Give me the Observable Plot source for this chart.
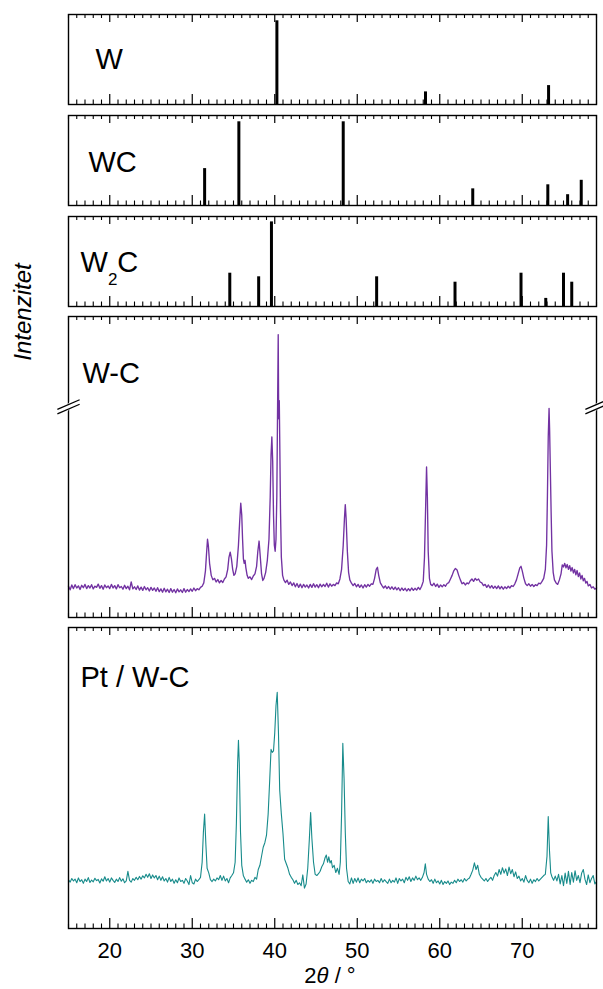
<!DOCTYPE html>
<html><head><meta charset="utf-8">
<script src="https://cdn.jsdelivr.net/npm/d3@7"></script>
<script src="https://cdn.jsdelivr.net/npm/@observablehq/plot@0.6"></script>
<style>
body{margin:0;background:#fff;}
#fig{position:relative;width:603px;height:989px;overflow:hidden;background:#fff;font-family:"Liberation Sans",Arial,sans-serif;}
#fig svg{position:absolute;left:0;background:none;}
</style></head><body><div id="fig"></div>
<script>
// ---------- data ----------
const xDomain = [15, 79];
const majorTicks = [20, 30, 40, 50, 60, 70];
const tickLabels = ["20", "30", "40", "50", "60", "70"];

// reference stick patterns (2θ, relative height %)
const wPos  = [40.26, 58.27, 73.19];
const wInt  = [93, 14, 21];
const wcPos = [31.5, 35.65, 48.3, 64.0, 73.1, 75.5, 77.15];
const wcInt = [41, 93, 93, 18.5, 23, 12, 28];
const w2cPos = [34.55, 38.05, 39.6, 52.35, 61.85, 69.85, 72.85, 75.0, 76.0];
const w2cInt = [37, 33, 94, 33, 27, 37, 9, 37, 27];

// measured pattern W-C (2θ, intensity a.u.)
const wcSpectrum = [[15.0,10.4],[15.2,9.2],[15.4,10.8],[15.6,9.6],[15.8,10.9],[16.0,9.8],[16.2,10.5],[16.4,9.3],[16.6,10.7],[16.8,9.9],[17.0,11.0],[17.2,9.6],[17.4,10.6],[17.6,9.8],[17.8,10.9],[18.0,9.5],[18.2,10.4],[18.4,10.0],[18.6,11.1],[18.8,9.7],[19.0,10.6],[19.2,9.4],[19.4,10.8],[19.6,9.9],[19.8,10.5],[20.0,9.6],[20.2,11.0],[20.4,9.8],[20.6,10.6],[20.8,9.5],[21.0,10.9],[21.2,9.9],[21.4,10.3],[21.6,9.4],[21.8,10.7],[22.0,9.6],[22.2,10.4],[22.4,9.2],[22.6,11.8],[22.8,9.5],[23.0,10.2],[23.2,9.3],[23.4,10.5],[23.6,9.1],[23.8,10.1],[24.0,9.0],[24.2,10.3],[24.4,9.2],[24.6,9.9],[24.8,8.8],[25.0,10.0],[25.2,9.0],[25.4,9.8],[25.6,8.7],[25.8,9.9],[26.0,8.6],[26.2,9.5],[26.4,8.4],[26.6,9.7],[26.8,8.5],[27.0,9.4],[27.2,8.3],[27.4,9.6],[27.6,8.4],[27.8,9.3],[28.0,8.2],[28.2,9.5],[28.4,8.5],[28.6,9.2],[28.8,8.3],[29.0,9.6],[29.2,8.4],[29.4,9.3],[29.6,8.6],[29.8,9.5],[30.0,8.7],[30.2,9.8],[30.4,8.9],[30.6,9.6],[30.8,9.2],[31.0,10.0],[31.2,10.4],[31.4,11.5],[31.6,15.5],[31.75,22.0],[31.85,26.0],[31.95,24.0],[32.1,18.0],[32.3,14.0],[32.5,12.5],[32.7,13.0],[32.9,11.8],[33.1,12.6],[33.3,11.5],[33.5,12.3],[33.7,11.6],[33.9,12.8],[34.1,13.5],[34.3,16.0],[34.45,20.0],[34.6,21.7],[34.75,19.5],[34.9,16.0],[35.05,14.0],[35.2,14.5],[35.4,17.0],[35.6,24.0],[35.75,32.0],[35.88,38.0],[36.0,34.0],[36.1,26.0],[36.2,19.5],[36.3,18.0],[36.4,19.0],[36.5,16.5],[36.65,14.0],[36.8,13.0],[37.0,13.5],[37.2,12.6],[37.4,13.8],[37.6,14.5],[37.8,17.0],[37.95,22.0],[38.1,25.4],[38.25,20.0],[38.4,14.5],[38.55,12.3],[38.7,13.0],[38.9,15.0],[39.1,19.0],[39.3,26.0],[39.45,40.0],[39.55,54.0],[39.65,60.0],[39.75,52.0],[39.85,34.0],[39.95,24.0],[40.05,22.0],[40.15,26.0],[40.25,40.0],[40.35,72.0],[40.42,94.0],[40.48,66.0],[40.55,72.0],[40.62,55.0],[40.7,35.0],[40.8,20.0],[40.95,14.0],[41.1,12.5],[41.3,11.6],[41.5,12.4],[41.7,11.0],[41.9,11.8],[42.1,10.6],[42.3,11.5],[42.5,10.2],[42.7,11.3],[42.9,10.0],[43.1,11.1],[43.3,9.9],[43.5,11.0],[43.7,10.1],[43.9,10.8],[44.1,9.8],[44.3,11.0],[44.5,10.0],[44.7,11.2],[44.9,10.1],[45.1,10.9],[45.3,9.9],[45.5,11.1],[45.7,10.2],[45.9,11.0],[46.1,10.3],[46.3,11.4],[46.5,10.1],[46.7,11.2],[46.9,10.4],[47.1,11.0],[47.3,10.6],[47.5,11.5],[47.7,11.2],[47.9,12.8],[48.1,16.0],[48.3,24.0],[48.45,33.0],[48.55,37.5],[48.65,33.0],[48.8,22.0],[48.95,15.0],[49.1,12.5],[49.3,11.4],[49.5,10.6],[49.7,11.3],[49.9,10.2],[50.1,11.0],[50.3,10.0],[50.5,10.8],[50.7,9.8],[50.9,10.9],[51.1,10.1],[51.3,11.0],[51.5,10.4],[51.7,11.2],[51.9,11.0],[52.1,13.0],[52.3,16.0],[52.45,16.7],[52.6,14.0],[52.8,11.5],[53.0,10.6],[53.2,9.8],[53.4,10.5],[53.6,9.6],[53.8,10.3],[54.0,9.4],[54.2,10.2],[54.4,9.3],[54.6,10.1],[54.8,9.2],[55.0,9.9],[55.2,8.9],[55.4,9.8],[55.6,9.0],[55.8,9.7],[56.0,8.8],[56.2,9.6],[56.4,8.9],[56.6,9.8],[56.8,9.0],[57.0,9.7],[57.2,9.1],[57.4,10.0],[57.6,9.3],[57.8,10.4],[58.0,12.0],[58.15,20.0],[58.3,38.0],[58.4,50.0],[58.5,40.0],[58.6,22.0],[58.75,13.0],[58.9,11.0],[59.1,10.6],[59.3,11.4],[59.5,10.3],[59.7,11.1],[59.9,10.0],[60.1,10.8],[60.3,10.2],[60.5,10.9],[60.7,10.4],[60.9,11.3],[61.1,11.6],[61.3,12.8],[61.5,14.0],[61.7,15.5],[61.9,16.3],[62.1,15.8],[62.3,14.0],[62.5,12.5],[62.7,11.2],[62.9,11.6],[63.1,10.8],[63.3,11.5],[63.5,11.2],[63.7,12.2],[63.9,12.8],[64.1,12.0],[64.3,13.0],[64.5,12.4],[64.7,12.8],[64.9,11.8],[65.1,11.5],[65.3,10.6],[65.5,11.0],[65.7,10.0],[65.9,10.8],[66.1,9.8],[66.3,10.6],[66.5,9.7],[66.7,10.4],[66.9,9.6],[67.1,10.5],[67.3,9.5],[67.5,10.3],[67.7,9.4],[67.9,10.2],[68.1,9.6],[68.3,10.4],[68.5,9.8],[68.7,10.6],[68.9,10.3],[69.1,11.2],[69.3,12.5],[69.5,14.5],[69.7,16.5],[69.85,17.0],[70.0,15.5],[70.2,13.0],[70.4,11.2],[70.6,10.6],[70.8,11.2],[71.0,10.4],[71.2,11.0],[71.4,10.3],[71.6,10.9],[71.8,10.6],[72.0,11.4],[72.2,11.2],[72.4,12.0],[72.6,13.0],[72.8,16.0],[72.95,24.0],[73.05,40.0],[73.15,60.0],[73.25,69.5],[73.32,62.0],[73.4,50.0],[73.5,35.0],[73.6,22.0],[73.75,15.0],[73.9,12.5],[74.1,11.5],[74.3,11.0],[74.5,12.5],[74.7,14.5],[74.85,17.5],[75.0,16.8],[75.15,18.0],[75.3,16.5],[75.45,17.6],[75.6,16.0],[75.75,17.2],[75.9,15.4],[76.05,16.6],[76.2,14.8],[76.35,16.0],[76.5,14.2],[76.65,15.6],[76.8,13.6],[76.95,14.8],[77.1,12.8],[77.25,14.0],[77.4,12.2],[77.55,13.0],[77.7,11.4],[77.85,12.0],[78.0,10.5],[78.2,11.0],[78.4,9.8],[78.6,10.2],[78.8,9.4],[79.0,9.8]];

// measured pattern Pt / W-C (2θ, intensity a.u.)
const ptSpectrum = [[15.0,16.2],[15.2,15.4],[15.4,16.6],[15.6,15.8],[15.8,16.4],[16.0,15.2],[16.2,16.8],[16.4,15.6],[16.6,16.2],[16.8,15.0],[17.0,16.4],[17.2,15.6],[17.4,16.9],[17.6,15.3],[17.8,16.1],[18.0,15.5],[18.2,16.7],[18.4,15.9],[18.6,16.3],[18.8,15.1],[19.0,16.5],[19.2,15.7],[19.4,17.2],[19.6,15.8],[19.8,16.6],[20.0,15.4],[20.2,16.8],[20.4,16.0],[20.6,15.3],[20.8,16.4],[21.0,15.6],[21.2,16.9],[21.4,15.7],[21.6,16.5],[21.8,15.2],[22.0,15.8],[22.2,19.0],[22.4,16.0],[22.6,15.4],[22.8,16.6],[23.0,16.0],[23.2,17.0],[23.4,16.2],[23.6,17.3],[23.8,16.4],[24.0,17.5],[24.2,16.8],[24.4,18.0],[24.6,17.0],[24.8,18.2],[25.0,16.6],[25.2,17.8],[25.4,16.8],[25.6,17.6],[25.8,16.2],[26.0,17.4],[26.2,16.0],[26.4,17.2],[26.6,15.8],[26.8,16.6],[27.0,15.4],[27.2,17.0],[27.4,15.6],[27.6,16.4],[27.8,15.0],[28.0,16.2],[28.2,15.2],[28.4,16.8],[28.6,15.6],[28.8,16.0],[29.0,15.0],[29.2,16.6],[29.4,15.8],[29.6,14.6],[29.8,17.6],[30.0,15.2],[30.2,14.8],[30.4,16.4],[30.6,15.6],[30.8,16.2],[31.0,17.0],[31.2,22.0],[31.35,32.0],[31.5,38.0],[31.65,28.0],[31.8,20.0],[32.0,18.5],[32.2,16.2],[32.4,15.6],[32.6,16.4],[32.8,15.8],[33.0,16.8],[33.2,16.2],[33.4,17.6],[33.6,16.0],[33.8,17.4],[34.0,15.8],[34.2,16.6],[34.4,15.2],[34.6,16.8],[34.8,17.6],[35.0,18.5],[35.2,22.0],[35.35,35.0],[35.5,55.0],[35.6,62.5],[35.7,55.0],[35.85,32.0],[36.0,21.0],[36.2,17.5],[36.4,16.4],[36.6,15.4],[36.8,16.2],[37.0,15.0],[37.2,16.0],[37.4,15.6],[37.6,17.0],[37.8,16.4],[38.0,19.6],[38.2,21.0],[38.4,24.0],[38.6,27.0],[38.8,28.5],[39.0,31.0],[39.2,38.0],[39.4,50.0],[39.55,59.5],[39.7,58.5],[39.85,59.0],[40.0,65.0],[40.15,74.0],[40.3,78.5],[40.45,65.0],[40.6,46.0],[40.8,38.0],[41.0,31.5],[41.2,23.0],[41.4,21.5],[41.6,20.0],[41.8,18.0],[42.0,17.0],[42.2,16.2],[42.4,15.0],[42.6,16.0],[42.8,14.6],[43.0,15.2],[43.2,14.2],[43.4,17.8],[43.6,13.4],[43.8,14.8],[44.0,20.0],[44.2,30.0],[44.35,38.5],[44.5,30.0],[44.7,22.0],[44.9,18.0],[45.1,17.6],[45.3,18.2],[45.5,19.0],[45.7,20.5],[45.9,21.5],[46.1,23.5],[46.25,24.4],[46.4,22.0],[46.55,23.8],[46.7,21.8],[46.85,22.6],[47.0,20.2],[47.2,21.0],[47.4,18.6],[47.6,20.0],[47.8,18.0],[47.95,22.0],[48.1,38.0],[48.25,61.5],[48.4,50.0],[48.55,32.0],[48.7,20.0],[48.9,15.6],[49.1,14.8],[49.3,16.8],[49.5,15.0],[49.7,16.6],[49.9,15.4],[50.1,16.8],[50.3,15.2],[50.5,16.4],[50.7,15.8],[50.9,16.6],[51.1,15.2],[51.3,16.0],[51.5,15.4],[51.7,16.2],[51.9,15.0],[52.1,16.4],[52.3,15.6],[52.5,16.0],[52.7,15.2],[52.9,16.6],[53.1,15.4],[53.3,16.2],[53.5,15.6],[53.7,15.0],[53.9,16.4],[54.1,15.2],[54.3,16.0],[54.5,15.4],[54.7,16.8],[54.9,15.0],[55.1,16.6],[55.3,15.8],[55.5,16.4],[55.7,15.2],[55.9,17.0],[56.1,16.0],[56.3,17.2],[56.5,15.6],[56.7,16.8],[56.9,16.0],[57.1,17.4],[57.3,16.2],[57.5,16.8],[57.7,16.0],[57.9,17.0],[58.1,18.6],[58.25,21.5],[58.4,18.0],[58.6,16.4],[58.8,15.6],[59.0,16.2],[59.2,15.0],[59.4,16.4],[59.6,15.2],[59.8,15.8],[60.0,14.8],[60.2,16.0],[60.4,14.6],[60.6,15.6],[60.8,15.0],[61.0,15.8],[61.2,14.6],[61.4,15.4],[61.6,15.0],[61.8,16.0],[62.0,15.2],[62.2,16.4],[62.4,15.6],[62.6,16.2],[62.8,15.4],[63.0,16.6],[63.2,15.8],[63.4,16.4],[63.6,16.8],[63.8,18.0],[64.0,19.4],[64.2,21.8],[64.4,19.6],[64.6,21.0],[64.8,18.0],[65.0,17.0],[65.2,16.4],[65.4,15.8],[65.6,16.6],[65.8,15.6],[66.0,16.4],[66.2,17.0],[66.4,16.0],[66.6,17.6],[66.8,18.6],[67.0,17.4],[67.2,19.6],[67.4,18.0],[67.6,20.2],[67.8,18.4],[68.0,19.8],[68.2,17.6],[68.4,20.4],[68.6,18.2],[68.8,19.6],[69.0,17.2],[69.2,18.8],[69.4,16.6],[69.6,17.4],[69.8,15.8],[70.0,16.6],[70.2,15.4],[70.4,17.6],[70.6,16.0],[70.8,15.2],[71.0,16.4],[71.2,15.0],[71.4,16.2],[71.6,15.6],[71.8,16.6],[72.0,15.8],[72.2,16.4],[72.4,17.0],[72.6,17.6],[72.8,18.0],[73.0,24.0],[73.15,37.2],[73.3,26.0],[73.45,18.5],[73.6,17.2],[73.8,16.0],[74.0,17.4],[74.2,15.8],[74.4,18.0],[74.6,14.8],[74.8,17.6],[75.0,14.2],[75.2,18.4],[75.4,15.0],[75.6,19.0],[75.8,14.6],[76.0,18.6],[76.2,15.4],[76.4,19.2],[76.6,16.0],[76.8,17.6],[77.0,15.2],[77.2,18.4],[77.4,19.6],[77.6,16.4],[77.8,14.6],[78.0,17.8],[78.2,15.2],[78.4,16.6],[78.6,17.6],[78.8,14.8],[79.0,15.6]];

const breakAt = 70; // axis break level in W-C panel

// ---------- layout / style ----------
const W = 603, ML = 68, MR = 7;
const purple = "#7232a2", teal = "#178b8b";
const font = "Liberation Sans, Arial, sans-serif";
const minorTicks = d3.range(15, 80).filter(v => !majorTicks.includes(v));
const fig = document.getElementById("fig");

function sticks(pos, ints) { return pos.map((x, i) => ({x, h: ints[i]})); }
function pts(arr) { return arr.map(([x, y]) => ({x, y})); }

function tickMarks(h) {
  return [
    Plot.ruleX(minorTicks, {stroke: "black", strokeWidth: 1.1, insetTop: h - 4.5}),
    Plot.ruleX(minorTicks, {stroke: "black", strokeWidth: 1.1, insetBottom: h - 4}),
    Plot.ruleX(majorTicks, {stroke: "black", strokeWidth: 1.2, insetTop: h - 10}),
    Plot.ruleX(majorTicks, {stroke: "black", strokeWidth: 1.2, insetBottom: h - 8})
  ];
}

function panel({top, h, marks, label, ldx, ldy, bottom = false}) {
  const mt = 2, mb = bottom ? (989 - top - h) : 2;
  const list = [
    ...marks,
    ...tickMarks(h),
    Plot.frame({stroke: "black", strokeWidth: 1.4}),
    Plot.text([label], {frameAnchor: "top-left", dx: ldx, dy: ldy, textAnchor: "start", lineAnchor: "bottom", fontSize: 29, fill: "black"})
  ];
  if (bottom) list.push(Plot.axisX(majorTicks, {anchor: "bottom", tickSize: 0, tickPadding: 14, fontSize: 22, tickFormat: (d, i) => tickLabels[i], label: null, fill: "black"}));
  const p = Plot.plot({
    width: W, height: h + mt + mb, marginLeft: ML, marginRight: MR, marginTop: mt, marginBottom: mb,
    style: {fontFamily: font, background: "none", color: "black"},
    x: {domain: xDomain, axis: bottom ? undefined : null},
    y: {domain: [0, 100], axis: null},
    marks: list
  });
  p.style.top = (top - mt) + "px";
  fig.appendChild(p);
  return p;
}

panel({top: 14, h: 90, label: "W", ldx: 27, ldy: 54,
  marks: [Plot.ruleX(sticks(wPos, wInt), {x: "x", y1: 0, y2: "h", stroke: "black", strokeWidth: 3})]});
panel({top: 115, h: 90, label: "WC", ldx: 20, ldy: 56,
  marks: [Plot.ruleX(sticks(wcPos, wcInt), {x: "x", y1: 0, y2: "h", stroke: "black", strokeWidth: 3})]});
const p3 = panel({top: 216, h: 90, label: "W2C", ldx: 12, ldy: 55,
  marks: [Plot.ruleX(sticks(w2cPos, w2cInt), {x: "x", y1: 0, y2: "h", stroke: "black", strokeWidth: 3})]});
// subscript for W2C
d3.select(p3).selectAll("text").filter(function() { return this.textContent === "W2C"; }).each(function() {
  const t = d3.select(this); t.text("");
  t.append("tspan").text("W");
  t.append("tspan").attr("dy", 13).attr("font-size", 17).text("2");
  t.append("tspan").attr("dy", -13).text("C");
});

const breakEnds = [xDomain[0], xDomain[1]].map(x => ({x}));
const brk = (off, sw, color, half) => Plot.link(breakEnds, {
  x1: d => d.x - half, x2: d => d.x + half,
  y1: breakAt - 1.6 + off, y2: breakAt + 1.6 + off,
  stroke: color, strokeWidth: sw
});
const p4 = panel({top: 316, h: 301, label: "W-C", ldx: 14, ldy: 66,
  marks: [Plot.line(pts(wcSpectrum), {x: "x", y: "y", stroke: purple, strokeWidth: 1.35})]});
// axis breaks drawn on top of the frame
const brkPlot = Plot.plot({
  width: W, height: 305, marginLeft: ML, marginRight: MR, marginTop: 2, marginBottom: 2,
  style: {background: "none"},
  x: {domain: xDomain, axis: null}, y: {domain: [0, 100], axis: null},
  marks: [brk(0, 4.5, "white", 0.5), brk(0.75, 1.3, "black", 1.35), brk(-0.75, 1.3, "black", 1.35)]
});
brkPlot.style.top = (316 - 2) + "px";
fig.appendChild(brkPlot);

panel({top: 627, h: 301, label: "Pt / W-C", ldx: 12, ldy: 59, bottom: true,
  marks: [Plot.line(pts(ptSpectrum), {x: "x", y: "y", stroke: teal, strokeWidth: 1.1})]});

// overlay labels
const ov = d3.select(fig).append("svg").attr("width", W).attr("height", 989)
  .style("top", "0px").style("pointer-events", "none").attr("font-family", font);
ov.append("text").attr("transform", "translate(31,312) rotate(-90)").attr("text-anchor", "middle")
  .attr("font-size", 24).attr("font-style", "italic").attr("fill", "black").text("Intenzitet");
const xl = ov.append("text").attr("x", 330).attr("y", 983).attr("text-anchor", "middle").attr("font-size", 22).attr("fill", "black");
xl.append("tspan").text("2");
xl.append("tspan").attr("font-style", "italic").text("θ");
xl.append("tspan").text(" / °");
</script></body></html>
